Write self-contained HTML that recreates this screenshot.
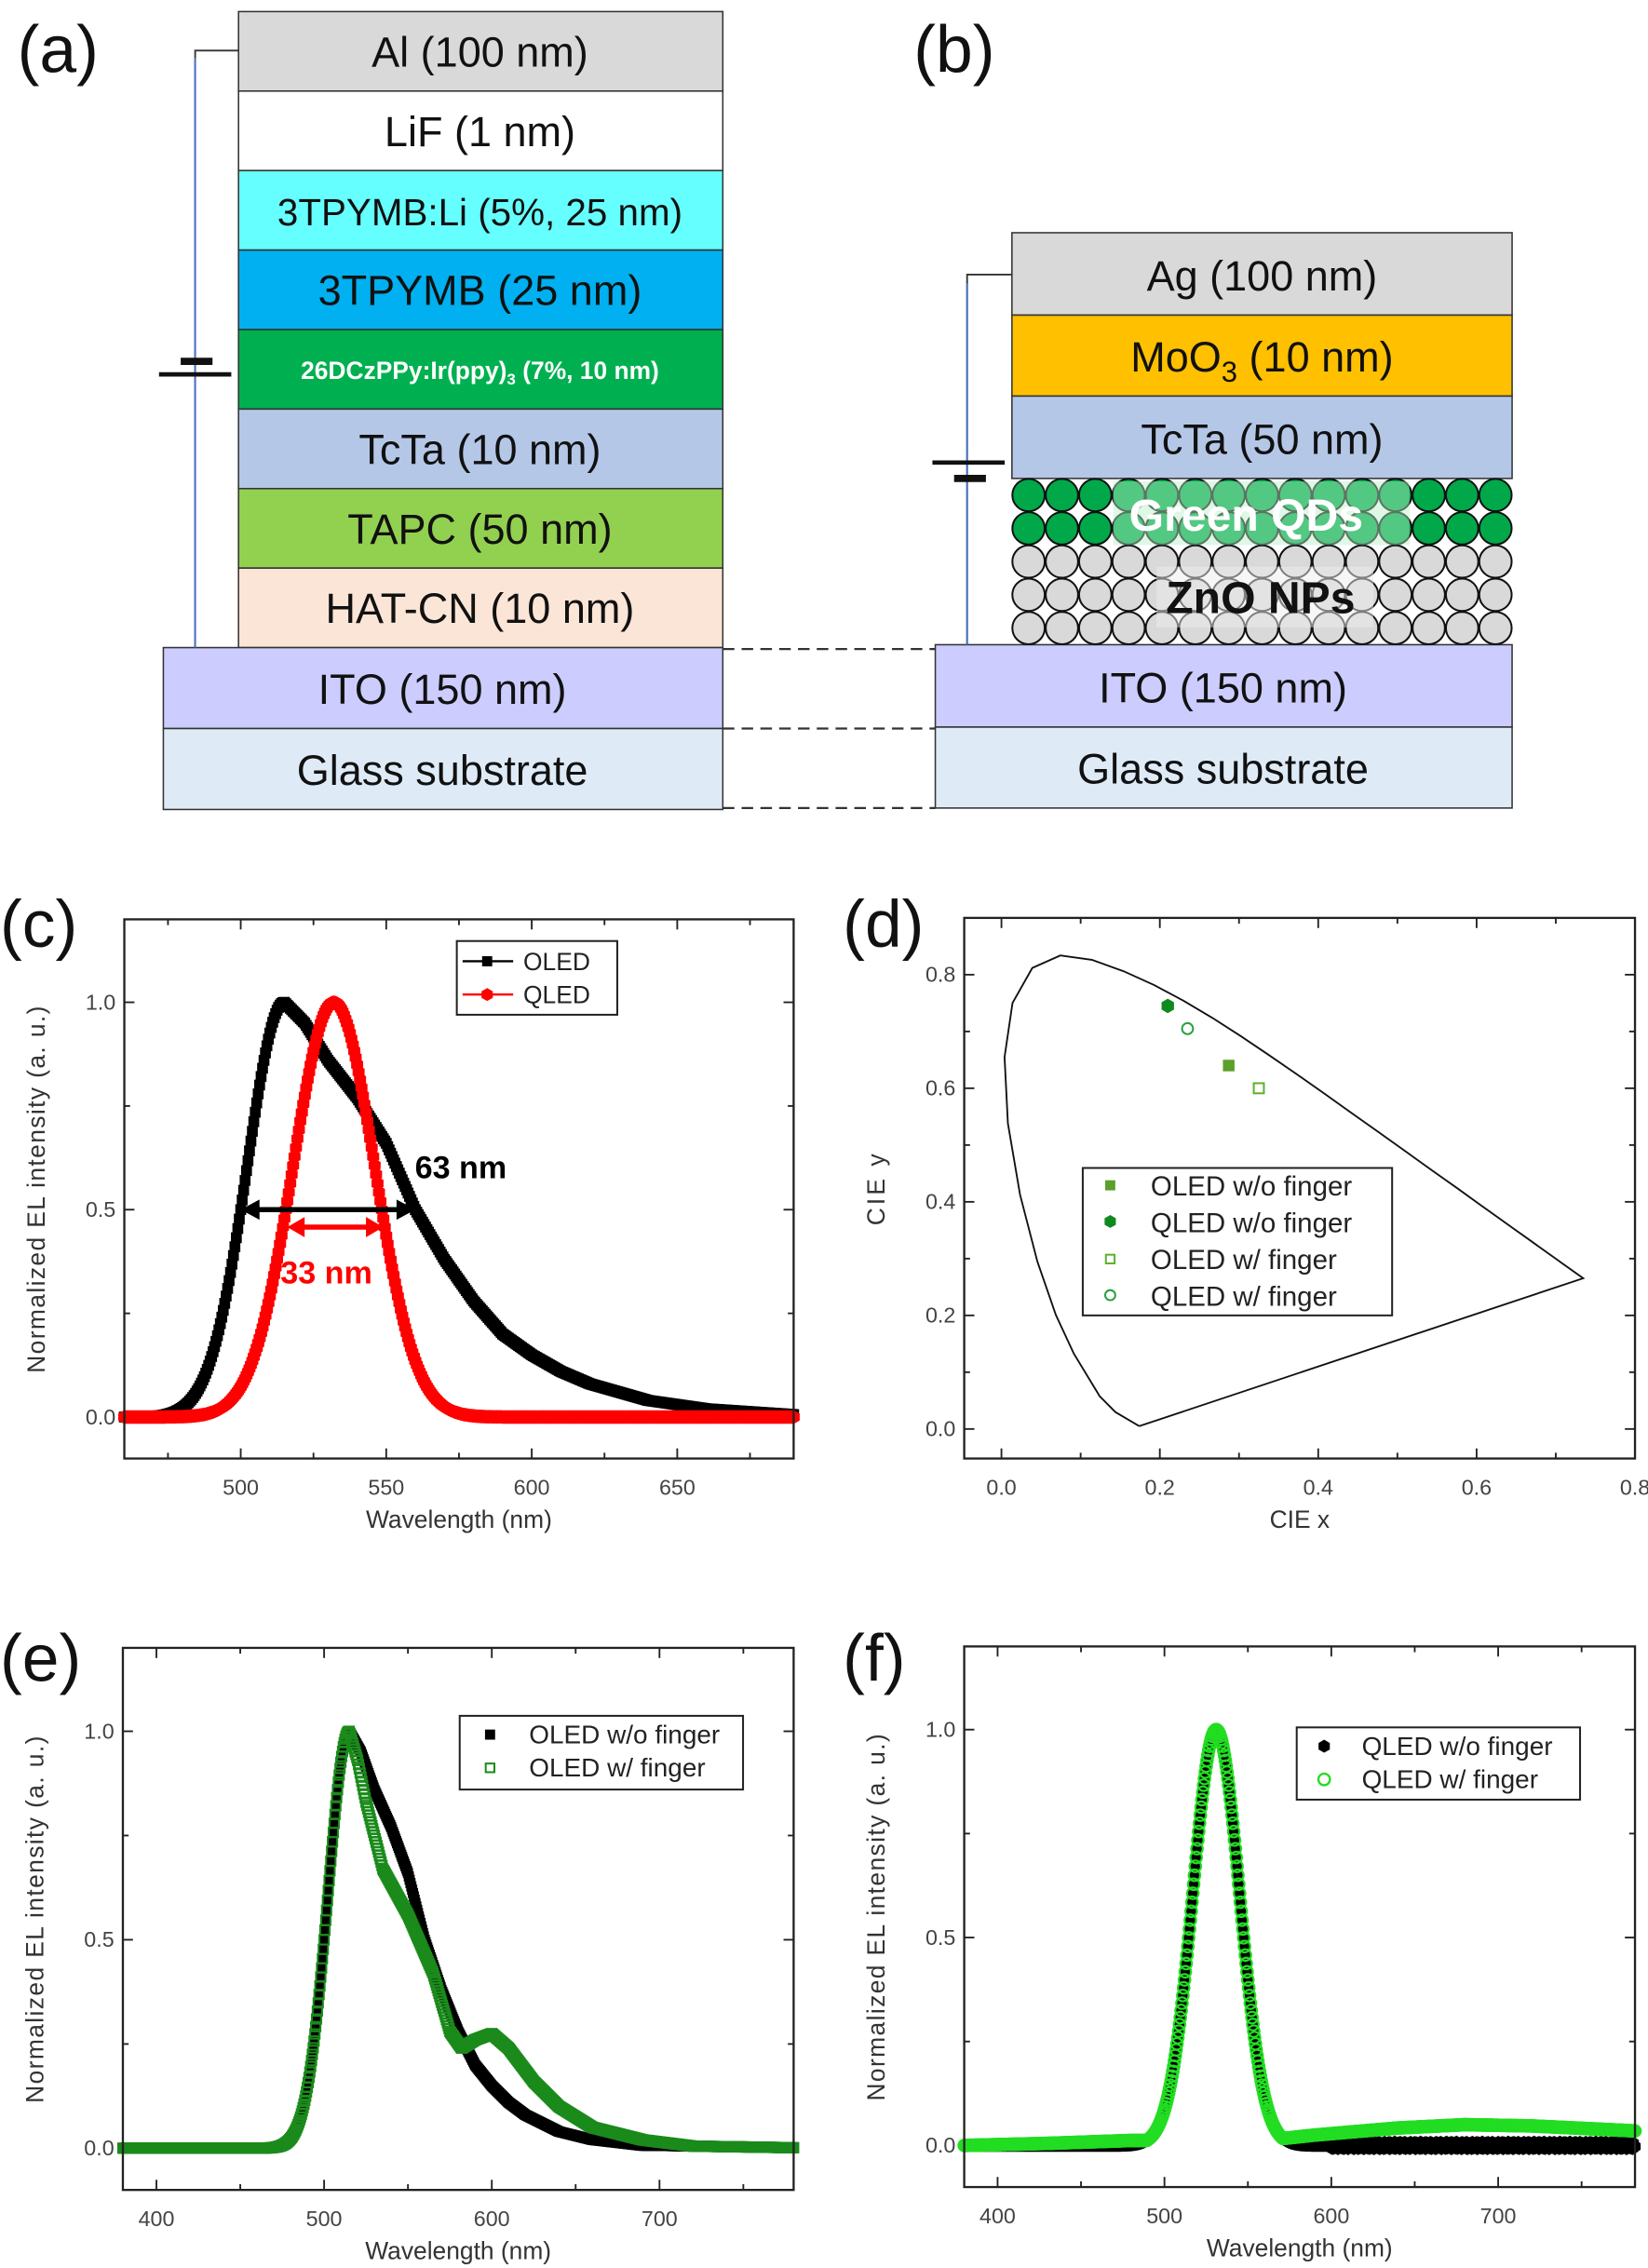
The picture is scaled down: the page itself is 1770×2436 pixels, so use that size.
<!DOCTYPE html>
<html><head><meta charset="utf-8">
<style>
html,body{margin:0;padding:0;background:#fff;}
svg{display:block;}
text{font-family:"Liberation Sans",sans-serif;}
</style></head>
<body>
<svg id="s" width="1770" height="2436" viewBox="0 0 1140 1569" preserveAspectRatio="none" xmlns="http://www.w3.org/2000/svg">
<rect width="1140" height="1569" fill="#fff"/>
<g font-size="46" fill="#111">
<text x="12" y="50">(a)</text><text x="632" y="50">(b)</text>
<text x="0" y="655">(c)</text><text x="583" y="655">(d)</text>
<text x="0" y="1163">(e)</text><text x="583" y="1163">(f)</text>
</g>
<g stroke="#333" stroke-width="1" font-size="29" text-anchor="middle">
<rect x="165" y="8" width="335" height="55" fill="#d9d9d9"/>
<rect x="165" y="63" width="335" height="55" fill="#ffffff"/>
<rect x="165" y="118" width="335" height="55" fill="#66ffff"/>
<rect x="165" y="173" width="335" height="55" fill="#00b0f0"/>
<rect x="165" y="228" width="335" height="55" fill="#00b050"/>
<rect x="165" y="283" width="335" height="55" fill="#b4c7e7"/>
<rect x="165" y="338" width="335" height="55" fill="#92d050"/>
<rect x="165" y="393" width="335" height="55" fill="#fbe5d6"/>
<rect x="113" y="448" width="387" height="56" fill="#ccccff"/>
<rect x="113" y="504" width="387" height="56" fill="#deebf7"/>
</g>
<g font-size="29" text-anchor="middle" fill="#111">
<text x="332" y="46">Al (100 nm)</text>
<text x="332" y="101">LiF (1 nm)</text>
<text x="332" y="156" font-size="26">3TPYMB:Li (5%, 25 nm)</text>
<text x="332" y="211">3TPYMB (25 nm)</text>
<text x="332" y="262" font-size="17" font-weight="bold" fill="#fff">26DCzPPy:Ir(ppy)<tspan font-size="11" dy="4">3</tspan><tspan dy="-4"> (7%, 10 nm)</tspan></text>
<text x="332" y="321">TcTa (10 nm)</text>
<text x="332" y="376">TAPC (50 nm)</text>
<text x="332" y="431">HAT-CN (10 nm)</text>
<text x="306" y="487">ITO (150 nm)</text>
<text x="306" y="543">Glass substrate</text>
</g>
<g fill="none">
<polyline points="165,35 135,35 135,448" stroke="#333" stroke-width="1.2"/>
<line x1="135" y1="40" x2="135" y2="448" stroke="#4472c4" stroke-width="1.2"/>
<line x1="110" y1="259" x2="160" y2="259" stroke="#111" stroke-width="3"/>
<line x1="125" y1="250" x2="147" y2="250" stroke="#111" stroke-width="5"/>
</g>
<g stroke="#333" stroke-width="1">
<rect x="700" y="161" width="346" height="57" fill="#d9d9d9"/>
<rect x="700" y="218" width="346" height="56" fill="#ffc000"/>
<rect x="700" y="274" width="346" height="57" fill="#b4c7e7"/>
<rect x="647" y="446" width="399" height="57" fill="#ccccff"/>
<rect x="647" y="503" width="399" height="56" fill="#deebf7"/>
</g>
<g id="qd" stroke="#111" stroke-width="1.3"></g>
<rect x="770" y="333" width="205" height="44" fill="#b8f0c8" opacity="0.45"/>
<rect x="800" y="392" width="150" height="42" fill="#eeeeee" opacity="0.5"/>
<g font-size="29" text-anchor="middle" fill="#111">
<text x="873" y="201">Ag (100 nm)</text>
<text x="873" y="257">MoO<tspan font-size="20" dy="7">3</tspan><tspan dy="-7"> (10 nm)</tspan></text>
<text x="873" y="314">TcTa (50 nm)</text>
<text x="862" y="367" font-size="31" font-weight="bold" fill="#fff">Green QDs</text>
<text x="872" y="424" font-size="31" font-weight="bold">ZnO NPs</text>
<text x="846" y="486">ITO (150 nm)</text>
<text x="846" y="542">Glass substrate</text>
</g>
<g fill="none">
<polyline points="700,190 669,190 669,446" stroke="#333" stroke-width="1.2"/>
<line x1="669" y1="196" x2="669" y2="446" stroke="#4472c4" stroke-width="1.2"/>
<line x1="645" y1="320" x2="695" y2="320" stroke="#111" stroke-width="3"/>
<line x1="660" y1="331" x2="682" y2="331" stroke="#111" stroke-width="5"/>
<g stroke="#333" stroke-width="1.5" stroke-dasharray="8,5">
<line x1="500" y1="449" x2="647" y2="449"/><line x1="500" y1="504" x2="647" y2="504"/><line x1="500" y1="559" x2="647" y2="559"/>
</g>
</g>
<g id="plots"></g>
</svg>
<script>
var NS="http://www.w3.org/2000/svg";
function el(p,t,a,txt){var e=document.createElementNS(NS,t);for(var k in a)e.setAttribute(k,a[k]);if(txt!==undefined)e.textContent=txt;p.appendChild(e);return e;}
var S=document.getElementById('plots');
var q=document.getElementById('qd');
for(var r=0;r<5;r++)for(var c=0;c<15;c++){el(q,'circle',{cx:711.5+c*23.07,cy:342.5+r*23,r:11.2,fill:r<2?'#00a84a':'#d9d9d9'});}
function interp(tab,x){if(x<=tab[0][0])return tab[0][1];for(var i=1;i<tab.length;i++){if(x<=tab[i][0]){var a=tab[i-1],b=tab[i];return a[1]+(b[1]-a[1])*(x-a[0])/(b[0]-a[0]);}}return tab[tab.length-1][1];}
function oled(l){if(l<515)return Math.exp(-0.693*Math.pow((l-515)/15,2));return interp([[515,1],[522,0.95],[530,0.86],[540,0.77],[550,0.66],[560,0.5],[570,0.38],[580,0.28],[590,0.2],[600,0.15],[610,0.11],[620,0.08],[640,0.04],[660,0.02],[690,0.006],[800,0]],l);}
function oledF(l){if(l<515)return Math.exp(-0.693*Math.pow((l-515)/15,2));return interp([[515,1],[520,0.93],[525,0.83],[535,0.67],[550,0.56],[565,0.42],[575,0.28],[582,0.24],[590,0.26],[600,0.275],[610,0.24],[625,0.16],[640,0.1],[660,0.05],[690,0.02],[720,0.005],[800,0]],l);}
function frame(b,xr,yr,xt,yt,minx,miny,xl,yl){
 var X=function(v){return b[0]+(v-xr[0])/(xr[1]-xr[0])*(b[2]-b[0]);};
 var Y=function(v){return b[3]-(v-yr[0])/(yr[1]-yr[0])*(b[3]-b[1]);};
 var g=el(S,'g',{stroke:'#222','stroke-width':1.2});
 xt.forEach(function(v){var x=X(v);el(g,'line',{x1:x,y1:b[3],x2:x,y2:b[3]-7});el(g,'line',{x1:x,y1:b[1],x2:x,y2:b[1]+7});el(S,'text',{x:x,y:b[3]+25,'font-size':15,'text-anchor':'middle',fill:'#444'},String(v>=100?v:v.toFixed(1)));});
 minx.forEach(function(v){var x=X(v);el(g,'line',{x1:x,y1:b[3],x2:x,y2:b[3]-4});el(g,'line',{x1:x,y1:b[1],x2:x,y2:b[1]+4});});
 yt.forEach(function(v){var y=Y(v);el(g,'line',{x1:b[0],y1:y,x2:b[0]+7,y2:y});el(g,'line',{x1:b[2],y1:y,x2:b[2]-7,y2:y});el(S,'text',{x:b[0]-6,y:y+5,'font-size':15,'text-anchor':'end',fill:'#444'},v.toFixed(1));});
 miny.forEach(function(v){var y=Y(v);el(g,'line',{x1:b[0],y1:y,x2:b[0]+4,y2:y});el(g,'line',{x1:b[2],y1:y,x2:b[2]-4,y2:y});});
 el(S,'text',{x:(b[0]+b[2])/2,y:b[3]+48,'font-size':17,'text-anchor':'middle',fill:'#333'},xl);
 var cy=(b[1]+b[3])/2;
 el(S,'text',{x:0,y:0,'font-size':17,'text-anchor':'middle',fill:'#333','letter-spacing':yl.length>8?'0.9':'2',transform:'translate('+(b[0]-55)+','+cy+') rotate(-90)'},yl);
 return {X:X,Y:Y,g:g,b:b};
}
function box(b){el(S,'rect',{x:b[0],y:b[1],width:b[2]-b[0],height:b[3]-b[1],fill:'none',stroke:'#222','stroke-width':1.5});}
function sq(g,x,y,s,f,open){el(g,'rect',{x:x-s/2,y:y-s/2,width:s,height:s,fill:open?'none':f,stroke:f,'stroke-width':open?1.3:0});}
function hex(g,x,y,r,f,open){var p=[];for(var i=0;i<6;i++){var a=Math.PI/6+i*Math.PI/3;p.push((x+r*Math.cos(a)).toFixed(1)+','+(y+r*Math.sin(a)).toFixed(1));}el(g,'polygon',{points:p.join(' '),fill:open?'none':f,stroke:f,'stroke-width':open?1.3:0});}
var bc=[86,636,549,1009];
var P=frame(bc,[460,690],[-0.1,1.2],[500,550,600,650],[0,0.5,1],[475,525,575,625,675],[0.25,0.75],'Wavelength (nm)','Normalized EL intensity (a. u.)');
var g=el(S,'g',{});
for(var l=460;l<=690;l+=0.5){sq(g,P.X(l),P.Y(oled(l)),7.5,'#000');}
for(var l=460;l<=690;l+=0.5){hex(g,P.X(l),P.Y(Math.exp(-0.5*Math.pow((l-532)/14,2))),4.8,'#ff0000');}
box(bc);
var ya=P.Y(0.5);
el(S,'line',{x1:P.X(500)+8,y1:ya,x2:P.X(560)-8,y2:ya,stroke:'#000','stroke-width':3.5});
el(S,'polygon',{points:(P.X(500))+','+ya+' '+(P.X(500)+13)+','+(ya-7)+' '+(P.X(500)+13)+','+(ya+7),fill:'#000'});
el(S,'polygon',{points:(P.X(560))+','+ya+' '+(P.X(560)-13)+','+(ya-7)+' '+(P.X(560)-13)+','+(ya+7),fill:'#000'});
var yr2=P.Y(0.458);
el(S,'line',{x1:P.X(516)+8,y1:yr2,x2:P.X(549)-8,y2:yr2,stroke:'#ff0000','stroke-width':3.5});
el(S,'polygon',{points:(P.X(516))+','+yr2+' '+(P.X(516)+12)+','+(yr2-7)+' '+(P.X(516)+12)+','+(yr2+7),fill:'#ff0000'});
el(S,'polygon',{points:(P.X(549))+','+yr2+' '+(P.X(549)-12)+','+(yr2-7)+' '+(P.X(549)-12)+','+(yr2+7),fill:'#ff0000'});
el(S,'text',{x:287,y:815,'font-size':22,'font-weight':'bold',fill:'#000'},'63 nm');
el(S,'text',{x:194,y:888,'font-size':22,'font-weight':'bold',fill:'#ff0000'},'33 nm');
el(S,'rect',{x:316,y:651,width:111,height:51,fill:'#fff',stroke:'#222','stroke-width':1.3});
el(S,'line',{x1:320,y1:665,x2:355,y2:665,stroke:'#000','stroke-width':1.5});sq(S,337,665,7,'#000');
el(S,'line',{x1:320,y1:688,x2:355,y2:688,stroke:'#ff0000','stroke-width':1.5});hex(S,337,688,4.5,'#ff0000');
el(S,'text',{x:362,y:671,'font-size':17,fill:'#222'},'OLED');el(S,'text',{x:362,y:694,'font-size':17,fill:'#222'},'QLED');
var bd=[667,635,1131,1009];
var D=frame(bd,[-0.047,0.8],[-0.052,0.9],[],[],[0.1,0.3,0.5,0.7],[0.1,0.3,0.5,0.7],'CIE x','CIE y');
[0,0.2,0.4,0.6,0.8].forEach(function(v){var x=D.X(v);el(D.g,'line',{x1:x,y1:bd[3],x2:x,y2:bd[3]-7});el(D.g,'line',{x1:x,y1:bd[1],x2:x,y2:bd[1]+7});el(S,'text',{x:x,y:bd[3]+25,'font-size':15,'text-anchor':'middle',fill:'#444'},v.toFixed(1));
 var y=D.Y(v);el(D.g,'line',{x1:bd[0],y1:y,x2:bd[0]+7,y2:y});el(D.g,'line',{x1:bd[2],y1:y,x2:bd[2]-7,y2:y});el(S,'text',{x:bd[0]-6,y:y+5,'font-size':15,'text-anchor':'end',fill:'#444'},v.toFixed(1));});
var loc=[[0.1741,0.005],[0.1440,0.0297],[0.1241,0.0578],[0.0913,0.1327],[0.0687,0.2007],[0.0454,0.2950],[0.0235,0.4127],[0.0082,0.5384],[0.0039,0.6548],[0.0139,0.7502],[0.0389,0.8120],[0.0743,0.8338],[0.1142,0.8262],[0.1547,0.8059],[0.1929,0.7816],[0.2296,0.7543],[0.2658,0.7243],[0.3016,0.6923],[0.3373,0.6589],[0.3731,0.6245],[0.4087,0.5896],[0.4441,0.5547],[0.4788,0.5202],[0.5125,0.4866],[0.5448,0.4544],[0.5752,0.4242],[0.6029,0.3965],[0.6270,0.3725],[0.6482,0.3514],[0.6658,0.3340],[0.6801,0.3197],[0.6915,0.3083],[0.7006,0.2993],[0.7079,0.2920],[0.7347,0.2653],[0.1741,0.005]];
el(S,'polyline',{points:loc.map(function(p){return D.X(p[0]).toFixed(1)+','+D.Y(p[1]).toFixed(1);}).join(' '),fill:'none',stroke:'#111','stroke-width':1.2});
sq(S,D.X(0.287),D.Y(0.64),8,'#5aa02a');hex(S,D.X(0.21),D.Y(0.745),5,'#0e8a20');
sq(S,D.X(0.325),D.Y(0.60),7,'#5fb030',true);el(S,'circle',{cx:D.X(0.235),cy:D.Y(0.705),r:3.8,fill:'none',stroke:'#2aa040','stroke-width':1.3});
box(bd);
el(S,'rect',{x:749,y:808,width:214,height:102,fill:'#fff',stroke:'#222','stroke-width':1.3});
sq(S,768,820,7,'#5aa02a');hex(S,768,845,4.5,'#0e8a20');sq(S,768,871,6,'#5fb030',true);el(S,'circle',{cx:768,cy:896,r:3.5,fill:'none',stroke:'#2aa040','stroke-width':1.3});
['OLED w/o finger','QLED w/o finger','OLED w/ finger','QLED w/ finger'].forEach(function(t,i){el(S,'text',{x:796,y:827+i*25.5,'font-size':19,fill:'#222'},t);});
var be=[85,1140,549,1515];
var E=frame(be,[380,780],[-0.1,1.2],[400,500,600,700],[0,0.5,1],[450,550,650,750],[0.25,0.75],'Wavelength (nm)','Normalized EL intensity (a. u.)');
var ge=el(S,'g',{});
for(var l=380;l<=780;l+=0.5){sq(ge,E.X(l),E.Y(oled(l)),7,'#000');}
for(var l=380;l<=780;l+=0.5){sq(ge,E.X(l),E.Y(oledF(l)),6.5,'#1b8a1b',true);}
box(be);
el(S,'rect',{x:318,y:1187,width:196,height:51,fill:'#fff',stroke:'#222','stroke-width':1.3});
sq(S,339,1200,7,'#000');sq(S,339,1223,6,'#1b8a1b',true);
el(S,'text',{x:366,y:1206,'font-size':18,fill:'#222'},'OLED w/o finger');el(S,'text',{x:366,y:1229,'font-size':18,fill:'#222'},'OLED w/  finger');
var bf=[667,1139,1131,1513];
var F=frame(bf,[380,782],[-0.1,1.2],[400,500,600,700],[0,0.5,1],[450,550,650,750],[0.25,0.75],'Wavelength (nm)','Normalized EL intensity (a. u.)');
var gf=el(S,'g',{});
function qf(l){return Math.exp(-0.5*Math.pow((l-531)/14,2));}
for(var l=380;l<=782;l+=0.5){var n=(l>600)?(Math.sin(l*7.3)*0.008):0;hex(gf,F.X(l),F.Y(qf(l)+n),4.5,'#000');}
function tailg(l){return interp([[380,0],[430,0.005],[480,0.012],[560,0.012],[590,0.025],[640,0.042],[680,0.05],[720,0.047],[782,0.035]],l);}
for(var l=380;l<=782;l+=0.5){var v=Math.max(qf(l),tailg(l));el(gf,'circle',{cx:F.X(l),cy:F.Y(v),r:4,fill:'none',stroke:'#22dd22','stroke-width':1.4});}
box(bf);
el(S,'rect',{x:897,y:1195,width:196,height:50,fill:'#fff',stroke:'#222','stroke-width':1.3});
hex(S,916,1208,4.5,'#000');el(S,'circle',{cx:916,cy:1231,r:4,fill:'none',stroke:'#22dd22','stroke-width':1.5});
el(S,'text',{x:942,y:1214,'font-size':18,fill:'#222'},'QLED w/o finger');el(S,'text',{x:942,y:1237,'font-size':18,fill:'#222'},'QLED w/  finger');
</script>
</body></html>
